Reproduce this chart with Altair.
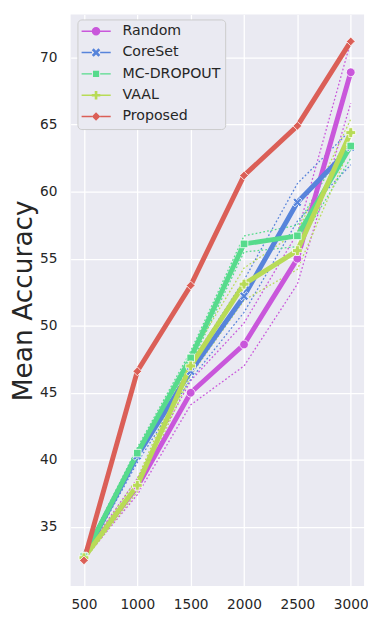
import altair as alt
import pandas as pd

budgets = [500, 1000, 1500, 2000, 2500, 3000]
methods = ["Random", "CoreSet", "MC-DROPOUT", "VAAL", "Proposed"]
colors = ["#C957DB", "#5784DB", "#57DB8C", "#B8DB57", "#DB5F57"]

random_mean = [32.8, 38.0, 45.0, 48.6, 55.0, 68.9]
coreset_mean = [32.8, 40.3, 46.6, 52.2, 59.2, 63.3]
mcdrop_mean = [32.8, 40.5, 47.6, 56.1, 56.7, 63.4]
vaal_mean = [32.7, 38.1, 47.0, 53.1, 55.6, 64.4]
proposed_mean = [32.5, 46.6, 53.0, 61.2, 64.9, 71.2]

random_std = [0.2, 0.6, 0.9, 1.6, 1.9, 2.3]
coreset_std = [0.2, 0.5, 0.6, 1.2, 1.4, 1.3]
mcdrop_std = [0.2, 0.4, 0.5, 0.6, 0.8, 0.9]
vaal_std = [0.2, 0.5, 0.7, 1.2, 1.4, 1.0]

means = [random_mean, coreset_mean, mcdrop_mean, vaal_mean, proposed_mean]
stds = [random_std, coreset_std, mcdrop_std, vaal_std, None]

x_ticks = [500, 1000, 1500, 2000, 2500, 3000]
y_ticks = [35, 40, 45, 50, 55, 60, 65, 70]

X_PATH = "M-1,-0.55L-0.55,-1L0,-0.45L0.55,-1L1,-0.55L0.45,0L1,0.55L0.55,1L0,0.45L-0.55,1L-1,0.55L-0.45,0Z"
point_shapes = ["circle", X_PATH, "square", "cross", "diamond"]
point_sizes = [80, 85, 60, 100, 80]

LINE_L = "M-1,-0.05H-0.28V0.05H-1Z"
LINE_R = "M0.28,-0.05H1V0.05H0.28Z"
leg_markers = [
    "M-0.29,0A0.29,0.29,0,1,1,0.29,0A0.29,0.29,0,1,1,-0.29,0Z",
    "M-0.29,-0.16L-0.16,-0.29L0,-0.13L0.16,-0.29L0.29,-0.16L0.13,0L0.29,0.16L0.16,0.29L0,0.13L-0.16,0.29L-0.29,0.16L-0.13,0Z",
    "M-0.21,-0.21H0.21V0.21H-0.21Z",
    "M-0.09,-0.29H0.09V-0.09H0.29V0.09H0.09V0.29H-0.09V0.09H-0.29V-0.09H-0.09Z",
    "M0,-0.29L0.29,0L0,0.29L-0.29,0Z",
]
legend_shapes = [LINE_L + LINE_R + m for m in leg_markers]

rows = []
brows = []
for i, m in enumerate(methods):
    for j, b in enumerate(budgets):
        rows.append({"method": m, "order": i, "budget": b, "acc": means[i][j]})
        if stds[i] is not None:
            brows.append({"method": m, "order": i, "key": m + "_lo", "budget": b, "acc": means[i][j] - stds[i][j]})
            brows.append({"method": m, "order": i, "key": m + "_hi", "budget": b, "acc": means[i][j] + stds[i][j]})
df = pd.DataFrame(rows)
dfb = pd.DataFrame(brows)

xs = alt.Scale(domain=[375, 3125], nice=False, zero=False)
ys = alt.Scale(domain=[30.6, 73.2], nice=False, zero=False)
cs = alt.Scale(domain=methods, range=colors)
idx_scale = alt.Scale(domain=list(range(len(methods))), range=colors)

x_enc = alt.X("budget:Q", scale=xs, axis=alt.Axis(values=x_ticks, title=None, labelPadding=12, format="d"))
y_enc = alt.Y("acc:Q", scale=ys, axis=alt.Axis(values=y_ticks, title="Mean Accuracy", labelPadding=14,
                                               titleX=-39.5, titleY=292, titleAngle=270,
                                               titleAlign="center", titleBaseline="alphabetic"))

bounds = alt.Chart(dfb).mark_line(strokeWidth=1.3, strokeDash=[1.8, 2.2]).encode(
    x=x_enc, y=y_enc,
    stroke=alt.Stroke("order:O", scale=idx_scale, legend=None),
    detail="key:N",
)

lines = alt.Chart(df).mark_line(strokeWidth=5).encode(
    x=x_enc, y=y_enc,
    stroke=alt.Stroke("order:O", scale=idx_scale, legend=None),
)

point_layers = []
for i, m in enumerate(methods):
    point_layers.append(
        alt.Chart(df).transform_filter(alt.datum.method == m).mark_point(
            filled=True, shape=point_shapes[i], size=point_sizes[i],
            stroke="white", strokeWidth=0.8, opacity=1
        ).encode(
            x=x_enc, y=y_enc,
            fill=alt.Fill("order:O", scale=idx_scale, legend=None),
        )
    )

legend_layer = alt.Chart(df).mark_point(filled=True, opacity=1).encode(
    x=x_enc, y=y_enc,
    size=alt.value(0),
    color=alt.Color("method:N", scale=cs, legend=alt.Legend(
        title=None, orient="none", legendX=7, legendY=5)),
    shape=alt.Shape("method:N", scale=alt.Scale(domain=methods, range=legend_shapes),
                    legend=alt.Legend(title=None, orient="none", legendX=7, legendY=5)),
)

chart = alt.layer(bounds, lines, *point_layers, legend_layer).properties(
    width=300, height=584,
    autosize=alt.AutoSizeParams(type="none"),
    padding={"left": 64, "top": 0, "right": 4, "bottom": 22},
    background="white",
).configure_view(
    fill="#EAEAF2", stroke=None
).configure_axis(
    grid=True, gridColor="white", gridWidth=1.3, domain=False, ticks=False,
    labelFont="DejaVu Sans", labelFontSize=14, labelColor="#262626",
    titleFont="DejaVu Sans", titleFontSize=27, titleFontWeight="normal", titleColor="#262626",
).configure_legend(
    padding=4,
    fillColor="#EAEAF2", strokeColor="#CCCCCC", cornerRadius=4,
    symbolSize=900, clipHeight=16, rowPadding=5.8, labelOffset=12,
    labelFont="DejaVu Sans", labelFontSize=14.5, labelColor="#262626",
    symbolStrokeWidth=0,
)

chart.save("out.html", embed_options={"renderer": "svg", "actions": False})
